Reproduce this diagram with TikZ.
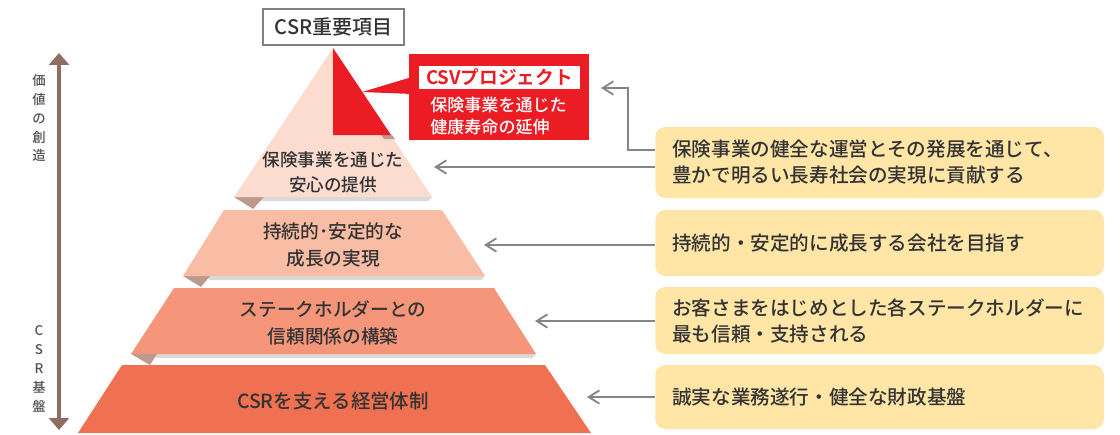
\documentclass[tikz,border=0pt]{standalone}
\usepackage{fontspec}
\setmainfont{Noto Sans CJK JP}[UprightFont=* Medium, BoldFont=* Bold]
\usetikzlibrary{arrows.meta}
\definecolor{tierA}{HTML}{FCDCCF}
\definecolor{tierB}{HTML}{F9BCA4}
\definecolor{tierC}{HTML}{F5967A}
\definecolor{tierD}{HTML}{F07052}
\definecolor{csvred}{HTML}{EC1C24}
\definecolor{foldc}{HTML}{BE9A8E}
\definecolor{shadowc}{HTML}{D9D9D9}
\definecolor{boxyellow}{HTML}{FFE6A7}
\definecolor{textdark}{HTML}{333333}
\definecolor{conngray}{HTML}{858585}
\definecolor{axisbrown}{HTML}{8E6E63}
\begin{document}
\begin{tikzpicture}[x=0.75pt,y=-0.75pt,
  ybox/.style={fill=boxyellow, rounded corners=7.5pt, text width=311pt, inner xsep=12.75pt,
    align=left, anchor=west, text=textdark, font=\fontsize{14.7}{19.5}\selectfont},
  ptext/.style={align=center, text=textdark, font=\fontsize{14}{20}\selectfont},
  conn/.style={draw=conngray, line width=1.4pt, -{Straight Barb[length=8pt,width=10pt,line width=1.4pt]}},
  vlabel/.style={align=center, text=textdark!85, font=\fontsize{10}{14.2}\selectfont},
  fold/.style={fill=foldc},
  shade/.style={fill=shadowc}]
\useasboundingbox (0,0) rectangle (1120,435);

% vertical axis
\coordinate (ax1) at (59,53);
\coordinate (ax2) at (59,430);
\draw[axisbrown, line width=3pt, {Triangle[length=9pt,width=15pt]}-{Triangle[length=9pt,width=15pt]}] (ax1) -- (ax2);
\node[vlabel] (vtop) at (39,118) {価\\値\\の\\創\\造};
\node[vlabel] (vbot) at (39,369) {C\\S\\R\\基\\盤};

% shadows and folds
\fill[shade] (255,197) -- (432,197) -- (428,201) -- (262,201) -- cycle;
\fill[fold] (234,197) -- (264,197) -- (253,209) -- cycle;
\fill[shade] (205,276) -- (485,276) -- (481,280) -- (210,280) -- cycle;
\fill[fold] (183,276) -- (210,276) -- (201,287) -- cycle;
\fill[shade] (150,354) -- (536,354) -- (532,358) -- (157,358) -- cycle;
\fill[fold] (131,354) -- (157,354) -- (150,365) -- cycle;

% pyramid tiers
\fill[tierA] (333,48) -- (432,197) -- (234,197) -- cycle;
\fill[fold] (381,135) -- (392,135) -- (395,139) -- (384,139) -- cycle;
\fill[csvred] (333,48) -- (391,135) -- (333,135) -- cycle;
\fill[tierB] (224,210) -- (442,210) -- (485,276) -- (183,276) -- cycle;
\fill[tierC] (174,288) -- (494,288) -- (536,354) -- (131,354) -- cycle;
\fill[tierD] (122,365) -- (545,365) -- (591,433) -- (78,433) -- cycle;

\node[ptext, font=\fontsize{13.2}{19}\selectfont] (p1) at (333,172.5) {保険事業を通じた\\安心の提供};
\node[ptext] (p2) at (333,245) {持続的･安定的な\\成長の実現};
\node[ptext] (p3) at (333,322.5) {ステークホルダーとの\\信頼関係の構築};
\node[ptext, font=\fontsize{14.6}{20}\selectfont] (p4) at (333,401) {CSRを支える経営体制};

% title
\node[draw=gray, line width=0.9pt, fill=white, minimum width=105.75pt, minimum height=27pt,
  inner sep=0pt, font=\fontsize{15}{18}\selectfont, text=textdark] (title) at (333.5,27) {CSR重要項目};

% CSV callout
\fill[csvred] (362,92) -- (412,77) -- (412,94) -- cycle;
\node[fill=csvred, minimum width=135pt, minimum height=64.5pt, inner sep=0pt] (csv) at (499,97) {};
\node[fill=white, minimum width=120.75pt, minimum height=17.25pt, inner sep=0pt,
  text=csvred, font=\fontsize{14}{16}\bfseries\selectfont] (csvlab) at (499.5,77.5) {CSVプロジェクト};
\node[anchor=west, align=left, text=white, inner sep=0pt, font=\fontsize{12.8}{16.5}\selectfont]
  (csvtxt) at (430,116) {保険事業を通じた\\健康寿命の延伸};

% right boxes
\node[ybox, minimum height=53.25pt] (b1) at (655,162.5) {保険事業の健全な運営とその発展を通じて、\\豊かで明るい長寿社会の実現に貢献する};
\node[ybox, minimum height=49.5pt] (b2) at (655,243) {持続的・安定的に成長する会社を目指す};
\node[ybox, minimum height=50.25pt] (b3) at (655,320.5) {お客さまをはじめとした各ステークホルダーに\\最も信頼・支持される};
\node[ybox, minimum height=48pt] (b4) at (655,397) {誠実な業務遂行・健全な財政基盤};

% connectors
\coordinate (c1) at (601,88);
\coordinate (k1) at (628,150);
\coordinate (t1) at (434,167);
\coordinate (t2) at (484,245);
\coordinate (t3) at (535,321);
\coordinate (t4) at (587,397);
\draw[conn] (b1.west |- k1) -- (k1) |- (c1);
\draw[conn] (b1.west |- t1) -- (t1);
\draw[conn] (b2.west |- t2) -- (t2);
\draw[conn] (b3.west |- t3) -- (t3);
\draw[conn] (b4.west |- t4) -- (t4);
\end{tikzpicture}
\end{document}
